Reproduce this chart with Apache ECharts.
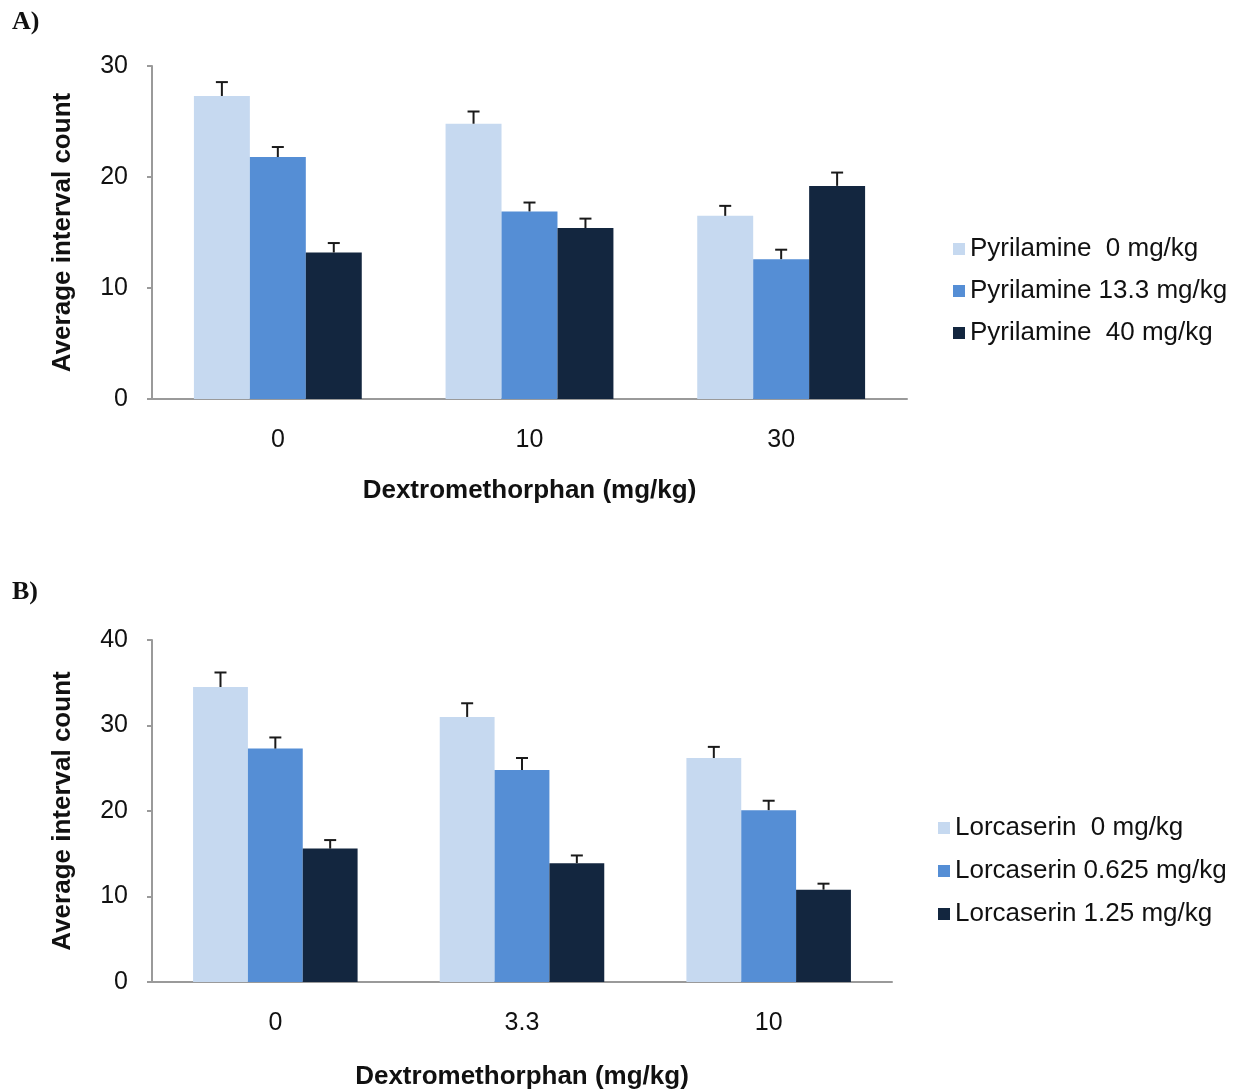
<!DOCTYPE html>
<html>
<head>
<meta charset="utf-8">
<script src="https://cdn.jsdelivr.net/npm/echarts@6/dist/echarts.min.js"></script>
<style>
html,body{margin:0;padding:0;background:#fff;}
#c{width:1239px;height:1092px;}
</style>
</head>
<body>
<div id="c"></div>
<script>
// Panel A data
const catsA = ['0', '10', '30'];
const namesA = ['Pyrilamine  0 mg/kg', 'Pyrilamine 13.3 mg/kg', 'Pyrilamine  40 mg/kg'];
const pyr0 = [27.3, 24.8, 16.5];
const pyr13 = [21.8, 16.9, 12.6];
const pyr40 = [13.2, 15.4, 19.2];
const pyr0Err = [1.25, 1.1, 0.9];
const pyr13Err = [0.9, 0.8, 0.85];
const pyr40Err = [0.85, 0.85, 1.2];
const ticksA = [0, 10, 20, 30];

// Panel B data
const catsB = ['0', '3.3', '10'];
const namesB = ['Lorcaserin  0 mg/kg', 'Lorcaserin 0.625 mg/kg', 'Lorcaserin 1.25 mg/kg'];
const lor0 = [34.5, 31.0, 26.2];
const lor0625 = [27.3, 24.8, 20.1];
const lor125 = [15.6, 13.9, 10.8];
const lor0Err = [1.7, 1.6, 1.3];
const lor0625Err = [1.3, 1.4, 1.1];
const lor125Err = [1.0, 0.9, 0.7];
const ticksB = [0, 10, 20, 30, 40];

const colors = ['#C6D9F0', '#558ED5', '#13263F'];
const GAP = 0.333;
const FONT = '"Liberation Sans", Arial, sans-serif';

function errRender(idx, n) {
  return function (params, api) {
    const x = api.value(0), y = api.value(1), e = api.value(2);
    const base = api.coord([x, y]);
    const top = api.coord([x, y + e]);
    const cw = api.size([1, 0])[0];
    const bw = cw * (1 - GAP) / n;
    const cx = base[0] + (idx - (n - 1) / 2) * bw;
    const st = { stroke: '#1a1a1a', lineWidth: 2 };
    return {
      type: 'group',
      children: [
        { type: 'line', shape: { x1: cx, y1: base[1], x2: cx, y2: top[1] }, style: st },
        { type: 'line', shape: { x1: cx - 6, y1: top[1], x2: cx + 6, y2: top[1] }, style: st }
      ]
    };
  };
}

function panelSeries(names, vals, errs, axisIdx) {
  const out = [];
  vals.forEach((v, i) => {
    out.push({
      name: names[i], type: 'bar', xAxisIndex: axisIdx, yAxisIndex: axisIdx,
      data: v, barGap: '0%', barCategoryGap: (GAP * 100) + '%',
      itemStyle: { color: colors[i] }, z: 2
    });
  });
  vals.forEach((v, i) => {
    out.push({
      type: 'custom', xAxisIndex: axisIdx, yAxisIndex: axisIdx, z: 5,
      renderItem: errRender(i, vals.length),
      data: v.map((m, k) => [k, m, errs[i][k]]),
      encode: { x: 0, y: 1 }, silent: true
    });
  });
  return out;
}

function xAxis(cats, idx, gap) {
  return {
    type: 'category', gridIndex: idx, data: cats,
    name: 'Dextromethorphan (mg/kg)', nameLocation: 'middle', nameGap: gap,
    nameTextStyle: { fontFamily: FONT, fontSize: 26, fontWeight: 'bold', color: '#111' },
    axisLine: { lineStyle: { color: '#9a9a9a', width: 2 } },
    axisTick: { show: false },
    axisLabel: { fontFamily: FONT, fontSize: 25, color: '#111', margin: 29 }
  };
}
function yAxis(ticks, idx) {
  return {
    type: 'value', gridIndex: idx, min: ticks[0], max: ticks[ticks.length - 1], interval: ticks[1] - ticks[0],
    name: 'Average interval count', nameLocation: 'middle', nameGap: 76,
    nameTextStyle: { fontFamily: FONT, fontSize: 26, fontWeight: 'bold', color: '#111' },
    axisLine: { show: true, lineStyle: { color: '#9a9a9a', width: 2 } },
    axisTick: { show: true, length: 5, lineStyle: { color: '#9a9a9a', width: 2 } },
    splitLine: { show: false },
    axisLabel: { fontFamily: FONT, fontSize: 25, color: '#111', margin: 24 }
  };
}

const chart = echarts.init(document.getElementById('c'));
chart.setOption({
  animation: false,
  grid: [
    { left: 152, right: 332, top: 66, bottom: 693 },
    { left: 152, right: 347, top: 640, bottom: 110 }
  ],
  xAxis: [xAxis(catsA, 0, 79), xAxis(catsB, 1, 82)],
  yAxis: [yAxis(ticksA, 0), yAxis(ticksB, 1)],
  legend: [
    { data: namesA, orient: 'vertical', left: 948, top: 231, itemWidth: 12, itemHeight: 12, itemGap: 16,
      icon: 'rect', textStyle: { fontFamily: FONT, fontSize: 26, color: '#111', padding: [0, 0, 0, 0] } },
    { data: namesB, orient: 'vertical', left: 933, top: 810, itemWidth: 12, itemHeight: 12, itemGap: 17,
      icon: 'rect', textStyle: { fontFamily: FONT, fontSize: 26, color: '#111', padding: [0, 0, 0, 0] } }
  ],
  graphic: [
    { type: 'text', left: 12, top: 9, style: { text: 'A)', font: 'bold 26px "Liberation Serif", "Times New Roman", serif', fill: '#111' } },
    { type: 'text', left: 12, top: 579, style: { text: 'B)', font: 'bold 26px "Liberation Serif", "Times New Roman", serif', fill: '#111' } }
  ],
  series: [].concat(
    panelSeries(namesA, [pyr0, pyr13, pyr40], [pyr0Err, pyr13Err, pyr40Err], 0),
    panelSeries(namesB, [lor0, lor0625, lor125], [lor0Err, lor0625Err, lor125Err], 1)
  )
});
</script>
</body>
</html>
